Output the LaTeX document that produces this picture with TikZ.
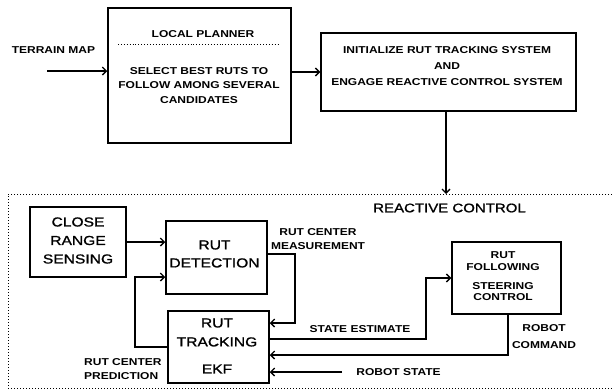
\documentclass[tikz,border=0pt]{standalone}
\usepackage{fontspec}
\setmainfont{Liberation Sans}[FakeStretch=1.2]
\newfontfamily\medfont{Liberation Sans}[FakeStretch=1.2,FakeBold=1.2]
\usetikzlibrary{arrows.meta}
\begin{document}
\begin{tikzpicture}[x=1pt,y=-1pt,
  box/.style={draw,line width=1.5pt,inner sep=0pt},
  arr/.style={line width=1.5pt,-{Straight Barb[length=4pt,width=8pt,line width=1.3pt]}},
  lbl/.style={font=\bfseries\fontsize{10}{12}\selectfont,inner sep=0pt,align=center},
  big/.style={font=\medfont\fontsize{13}{18.5}\selectfont,inner sep=0pt,align=center}]
\useasboundingbox (0,0) rectangle (612,389);
% boxes
\node[box,minimum width=183pt,minimum height=135pt] (planner) at (199.5,75.5) {};
\node[box,minimum width=255pt,minimum height=78pt] (init) at (448.5,72) {};
\node[box,minimum width=96pt,minimum height=70pt] (sensing) at (78,242) {};
\node[box,minimum width=101pt,minimum height=73pt] (detect) at (216.5,257.5) {};
\node[box,minimum width=101pt,minimum height=72pt] (track) at (218.5,347) {};
\node[box,minimum width=109pt,minimum height=72pt] (follow) at (506.5,278) {};
% texts in boxes
\node[lbl] (lp) at (203,34) {LOCAL PLANNER};
\draw[dotted,line width=0.9pt] (118,44) -- (280,44);
\node[lbl,font=\bfseries\fontsize{10}{14.5}\selectfont] (lpt) at (199,85.5) {SELECT BEST RUTS TO\\FOLLOW AMONG SEVERAL\\CANDIDATES};
\node[lbl,font=\bfseries\fontsize{10}{16}\selectfont] (initt) at (447,66) {INITIALIZE RUT TRACKING SYSTEM\\AND\\ENGAGE REACTIVE CONTROL SYSTEM};
\node[big] (sensingt) at (78,240.5) {CLOSE\\RANGE\\SENSING};
\node[big,font=\medfont\fontsize{13}{18}\selectfont] (detectt) at (214.5,254) {RUT\\DETECTION};
\node[big,font=\medfont\fontsize{13}{19}\selectfont] (trackt) at (217,332.5) {RUT\\TRACKING};
\node[big] (ekf) at (217,369) {EKF};
\node[lbl,font=\bfseries\fontsize{10}{12}\selectfont] (followt) at (503,261) {RUT\\FOLLOWING};
\node[lbl,font=\bfseries\fontsize{10}{11}\selectfont] (steert) at (503,291.5) {STEERING\\CONTROL};
% reactive control frame
\coordinate (dtop) at ([xshift=-2.5pt]init.south);
\coordinate (rctop) at (dtop |- 0,194);
\draw[dotted,line width=1pt] (612,194) -- (8,194) -- (8,388) -- (612,388);
\node[inner sep=0pt,font=\medfont\fontsize{12.5}{15}\selectfont] (rc) at (449.5,208) {REACTIVE CONTROL};
% labels
\node[lbl] (terrain) at (53.5,50) {TERRAIN MAP};
\node[lbl,font=\bfseries\fontsize{10}{14}\selectfont] (meas) at (318,239) {RUT CENTER\\MEASUREMENT};
\node[lbl,align=left,font=\bfseries\fontsize{10}{14}\selectfont,anchor=west] (pred) at (84,369) {RUT CENTER\\PREDICTION};
\node[lbl] (se) at (360,329) {STATE ESTIMATE};
\node[lbl,font=\bfseries\fontsize{10}{17}\selectfont] (rcmd) at (544,336.5) {ROBOT\\COMMAND};
\node[lbl] (rs) at (398.5,372) {ROBOT STATE};
% connectors
\coordinate (tm) at (47,71);
\draw[arr] (tm) -- (planner.west |- tm);
\draw[arr] (planner.east |- init.west) -- (init.west);
\draw[arr] (dtop) -- (rctop);
\draw[arr] (sensing.east) -- (detect.west |- sensing.east);
\coordinate (m1) at (295,254);
\coordinate (m2) at (295,323);
\draw[arr] (detect.east |- m1) -- (m1) -- (m2) -- (track.east |- m2);
\coordinate (p1) at (135,347);
\coordinate (p2) at (135,277);
\draw[arr] (track.west |- p1) -- (p1) -- (p2) -- (detect.west |- p2);
\coordinate (s1) at (426,339);
\draw[arr] (track.east |- s1) -- (s1) -- (s1 |- follow.west) -- (follow.west);
\coordinate (c1) at (508,314);
\coordinate (c2) at (508,355);
\draw[arr] (c1) -- (c2) -- (track.east |- c2);
\coordinate (r1) at (342,372);
\draw[arr] (r1) -- (track.east |- r1);
\end{tikzpicture}
\end{document}
